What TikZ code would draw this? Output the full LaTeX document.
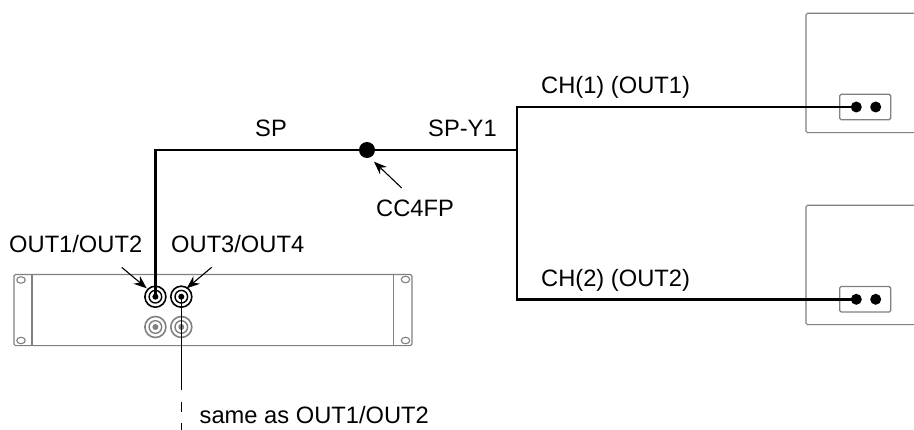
\documentclass[tikz,border=0pt]{standalone}
\usepackage{fontspec}
\setmainfont{Liberation Sans}
\usetikzlibrary{arrows.meta,shapes.geometric}
\definecolor{devgray}{HTML}{808080}
\tikzset{
  x=1pt,y=-1pt,
  wire/.style={draw=black,line width=2.6pt},
  thinwire/.style={draw=black,line width=1.6pt},
  pointer/.style={draw=black,line width=1.1pt,-{Stealth[length=13pt,width=10pt]}},
  outline/.style={draw=devgray,line width=1.1pt,rounded corners=1.5pt},
  lbl/.style={font=\fontsize{23.7}{28}\selectfont,inner sep=0pt,anchor=base west},
  pin/.style={circle,fill=black,inner sep=0pt,minimum size=11pt},
  hole/.style={ellipse,draw=devgray,line width=1.1pt,inner sep=0pt,minimum width=8.5pt,minimum height=6.5pt},
}
\begin{document}
\begin{tikzpicture}
\useasboundingbox (0,0) rectangle (914,430);
% rack
\draw[outline] (14,274.5) rectangle (412,345.7);
\draw[draw=devgray,line width=1.1pt] (32,274.5) -- (32,345.7) (393.7,274.5) -- (393.7,345.7);
\node[hole] (h1) at (21,280) {};
\node[hole] (h2) at (21,340.5) {};
\node[hole] (h3) at (405.5,279.5) {};
\node[hole] (h4) at (405.5,340.5) {};
% connectors
\foreach \n/\cx/\cy/\c in {c1/155.4/296.7/black,c2/181.3/296.7/black,c3/155.4/327/devgray,c4/181.3/327/devgray}{
  \node[circle,draw=\c,line width=1.6pt,fill=white,minimum size=21pt,inner sep=0pt] (\n) at (\cx,\cy) {};
  \draw[\c,line width=1.4pt] (\cx,\cy) circle (6.3);
  \fill[\c] (\cx,\cy) circle (3);
}
% speakers
\draw[outline] (914,13.3) -- (806,13.3) -- (806,132.7) -- (914,132.7);
\draw[outline] (914,205.3) -- (806,205.3) -- (806,324.7) -- (914,324.7);
\node[draw=devgray,line width=1.3pt,rounded corners=1.5pt,minimum width=51pt,minimum height=25.4pt,inner sep=0pt] (t1) at (865.2,107) {};
\node[draw=devgray,line width=1.3pt,rounded corners=1.5pt,minimum width=51pt,minimum height=25.4pt,inner sep=0pt] (t2) at (865.2,299.3) {};
\node[pin] (p1a) at (856.3,107) {};
\node[pin] (p1b) at (875.7,107) {};
\node[pin] (p2a) at (856.3,299.3) {};
\node[pin] (p2b) at (875.7,299.3) {};
% wires
\node[circle,fill=black,inner sep=0pt,minimum size=16pt] (j) at (367,150) {};
\coordinate (split) at (517,150);
\draw[wire] (c1.center) -- (155.4,150) -- (j.center) -- (split);
\draw[wire] (p1a.center) -- (517,107) -- (517,299.3) -- (p2a.center);
\coordinate (solidend) at (181.3,390);
\coordinate (dashend) at (181.3,430);
\draw[thinwire] (c2.center) -- (solidend);
\draw[draw=black,line width=1.1pt,dash pattern=on 10pt off 11pt] (181.3,402) -- (dashend);
% pointers
\coordinate (a1) at (121.7,267.3);
\coordinate (a2) at (211.7,267.3);
\coordinate (a3) at (401.7,188);
\draw[pointer] (a1) -- (146.7,288.3);
\draw[pointer] (a2) -- (186.7,288.3);
\draw[pointer] (a3) -- (374,161.7);
% labels
\node[lbl] (l1) at (9,252.7) {OUT1/OUT2};
\node[lbl] (l2) at (171,252.7) {OUT3/OUT4};
\node[lbl] (l3) at (255,137) {SP};
\node[lbl] (l4) at (428,137) {SP-Y1};
\node[lbl] (l5) at (376,216.7) {CC4FP};
\node[lbl] (l6) at (541,94) {CH(1) (OUT1)};
\node[lbl] (l7) at (541,287) {CH(2) (OUT2)};
\node[lbl] (l8) at (199.5,424) {same as OUT1/OUT2};
\end{tikzpicture}
\end{document}
